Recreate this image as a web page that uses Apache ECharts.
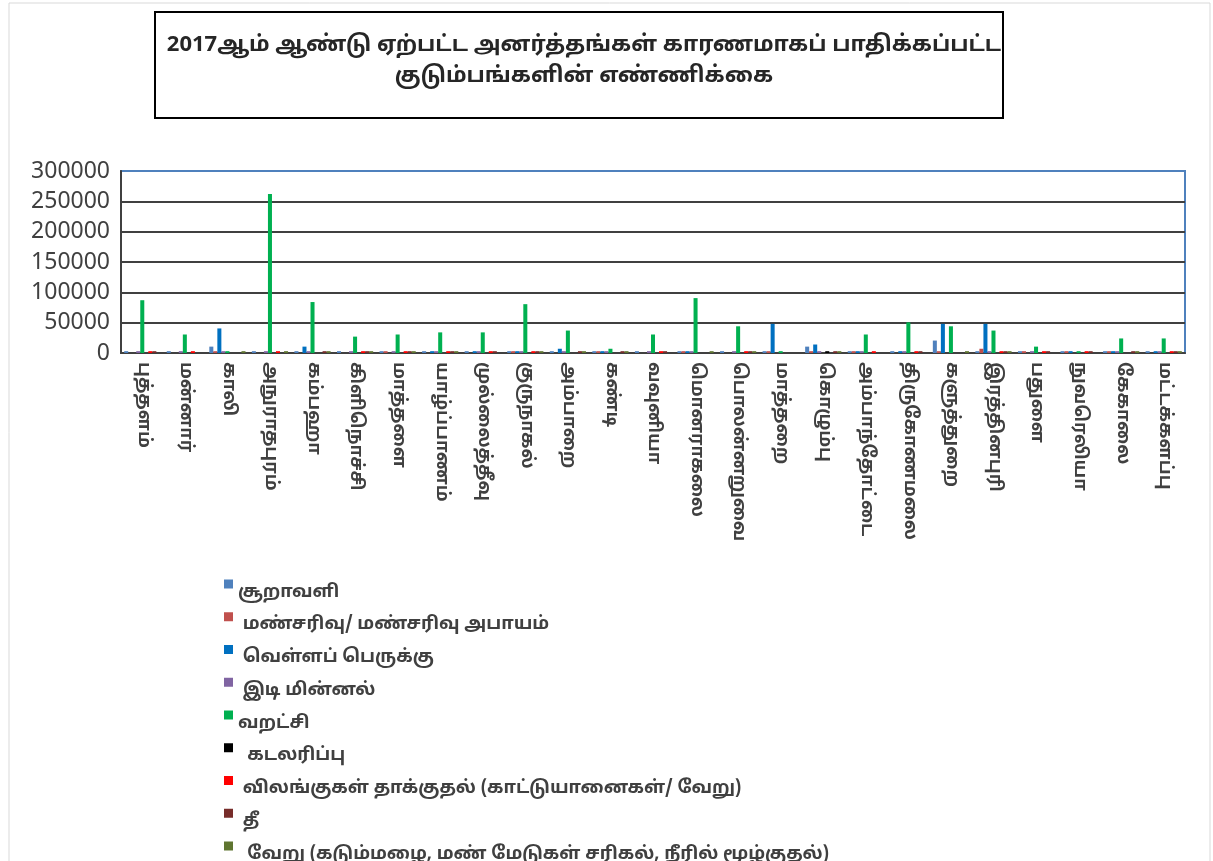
<!DOCTYPE html>
<html lang="ta">
<head>
    <meta charset="UTF-8">
    <title>2017 அனர்த்தங்கள்</title>
    <script src="https://cdn.jsdelivr.net/npm/echarts@6.0.0/dist/echarts.min.js"></script>
    <style>
        html, body { margin: 0; padding: 0; background: #fff; }
        #chart { width: 1213px; height: 861px; }
    </style>
</head>
<body>
    <div id="chart"></div>
    <script>
        const districts = ['புத்தளம்', 'மன்னார்', 'காலி', 'அநுராதபுரம்', 'கம்பஹா', 'கிளிநொச்சி', 'மாத்தளை',
            'யாழ்ப்பாணம்', 'முல்லைத்தீவு', 'குருநாகல்', 'அம்பாறை', 'கண்டி', 'வவுனியா', 'மொனராகலை',
            'பொலன்னறுவை', 'மாத்தறை', 'கொழும்பு', 'அம்பாந்தோட்டை', 'திருகோணமலை', 'களுத்துறை',
            'இரத்தினபுரி', 'பதுளை', 'நுவரெலியா', 'கேகாலை', 'மட்டக்களப்பு'];

        const cyclone = [3000, 3000, 10500, 3000, 3000, 3000, 3000, 3000, 3000, 3000, 3000, 3000, 3000, 3000, 3000, 3000, 10500, 3000, 3000, 20500, 3000, 3000, 3000, 3000, 3000];
        const landslide = [0, 0, 3000, 0, 0, 0, 3000, 0, 0, 3000, 0, 3000, 0, 3000, 0, 3000, 3000, 3000, 0, 3000, 7000, 3000, 3000, 3000, 0];
        const flood = [0, 0, 40500, 0, 10500, 0, 0, 3000, 3000, 3000, 7000, 3000, 0, 3000, 0, 48000, 14000, 3000, 3000, 48000, 48000, 0, 3000, 3000, 3000];
        const lightning = [3000, 3000, 3000, 3000, 3000, 3000, 3000, 3000, 3000, 3000, 3000, 3000, 3000, 3000, 3000, 0, 3000, 3000, 3000, 0, 3000, 3000, 0, 3000, 3000];
        const drought = [87000, 30500, 3000, 262000, 84000, 27000, 30500, 34000, 34000, 80500, 37000, 7000, 30500, 90500, 44000, 3000, 0, 30500, 50500, 44000, 37000, 10500, 3000, 24000, 24000];
        const seaErosion = [0, 0, 0, 0, 0, 0, 0, 0, 0, 0, 0, 0, 0, 0, 0, 0, 3000, 0, 0, 0, 0, 0, 0, 0, 0];
        const animalAttack = [3000, 3000, 0, 3000, 0, 3000, 3000, 3000, 3000, 3000, 0, 0, 3000, 0, 3000, 0, 0, 3000, 3000, 0, 3000, 3000, 3000, 0, 3000];
        const fire = [3000, 0, 0, 0, 3000, 3000, 3000, 3000, 3000, 3000, 3000, 3000, 3000, 0, 3000, 0, 3000, 0, 3000, 0, 3000, 3000, 3000, 3000, 3000];
        const other = [0, 0, 3000, 3000, 3000, 3000, 3000, 3000, 0, 3000, 3000, 3000, 0, 3000, 3000, 0, 3000, 0, 0, 3000, 3000, 0, 0, 3000, 3000];

        const seriesNames = ['சூறாவளி', ' மண்சரிவு/ மண்சரிவு அபாயம்', ' வெள்ளப் பெருக்கு', ' இடி மின்னல்', 'வறட்சி',
            '  கடலரிப்பு', ' விலங்குகள் தாக்குதல் (காட்டுயானைகள்/ வேறு)', ' தீ',
            '  வேறு (கடும்மழை, மண் மேடுகள் சரிகல், நீரில் மூழ்குதல்)'];
        const seriesData = [cyclone, landslide, flood, lightning, drought, seaErosion, animalAttack, fire, other];
        const colors = ['#4F81BD', '#C0504D', '#0070C0', '#8064A2', '#00B050', '#000000', '#FF0000', '#772C2A', '#5F7530'];

        const titleLines = ['2017ஆம் ஆண்டு ஏற்பட்ட அனர்த்தங்கள் காரணமாகப் பாதிக்கப்பட்ட', 'குடும்பங்களின் எண்ணிக்கை'];

        const chart = echarts.init(document.getElementById('chart'));
        const fontFamily = '"Noto Sans Tamil", "Lohit Tamil", Latha, "Noto Sans", "DejaVu Sans", sans-serif';

        chart.setOption({
            animation: false,
            color: colors,
            title: {
                text: titleLines.join('\n'),
                left: 579,
                top: 26,
                textAlign: 'center',
                textStyle: { fontFamily: fontFamily, fontSize: 22, fontWeight: 'bold', color: '#262626', lineHeight: 31 }
            },
            graphic: [
                { type: 'rect', shape: { x: 9, y: 3, width: 1201, height: 880 }, style: { fill: 'none', stroke: '#d9d9d9', lineWidth: 1 }, silent: true },
                { type: 'rect', shape: { x: 155, y: 12, width: 848, height: 106 }, style: { fill: 'none', stroke: '#000', lineWidth: 2 }, silent: true }
            ],
            legend: {
                orient: 'vertical',
                left: 219,
                top: 561,
                height: 500,
                itemWidth: 9,
                itemHeight: 9,
                itemGap: -3.25,
                itemTextGap: 5,
                icon: 'rect',
                data: seriesNames,
                // text sits a little below the marker, as in the source
                formatter: (name) => '{t|' + name + '}',
                textStyle: {
                    rich: {
                        t: {
                            fontFamily: fontFamily,
                            fontSize: 18,
                            fontWeight: 'bold',
                            color: '#404040',
                            lineHeight: 15,
                            padding: [18, 0, 0, 0]
                        }
                    }
                }
            },
            grid: {
                left: 121,
                right: 28,
                top: 171,
                bottom: 508,
                show: true,
                borderColor: '#4F81BD',
                borderWidth: 2
            },
            xAxis: {
                type: 'category',
                data: districts,
                axisLine: { lineStyle: { color: '#404040', width: 2 } },
                axisTick: { show: false },
                axisLabel: {
                    interval: 0,
                    rotate: -90,
                    margin: 9,
                    fontFamily: fontFamily,
                    fontSize: 18,
                    fontWeight: 'bold',
                    color: '#404040'
                }
            },
            yAxis: {
                type: 'value',
                min: 0,
                max: 300000,
                interval: 50000,
                axisLine: { show: true, lineStyle: { color: '#404040', width: 2 } },
                axisTick: { show: false },
                splitLine: { showMaxLine: false, lineStyle: { color: '#404040', width: 2 } },
                axisLabel: {
                    margin: 11,
                    fontFamily: '"Noto Sans", sans-serif',
                    fontSize: 23,
                    color: '#404040',
                    formatter: (v) => String(v)
                }
            },
            series: seriesNames.map((name, i) => ({
                name: name,
                type: 'bar',
                data: seriesData[i],
                barGap: '0%',
                barCategoryGap: '15%'
            }))
        });
    </script>
</body>
</html>
